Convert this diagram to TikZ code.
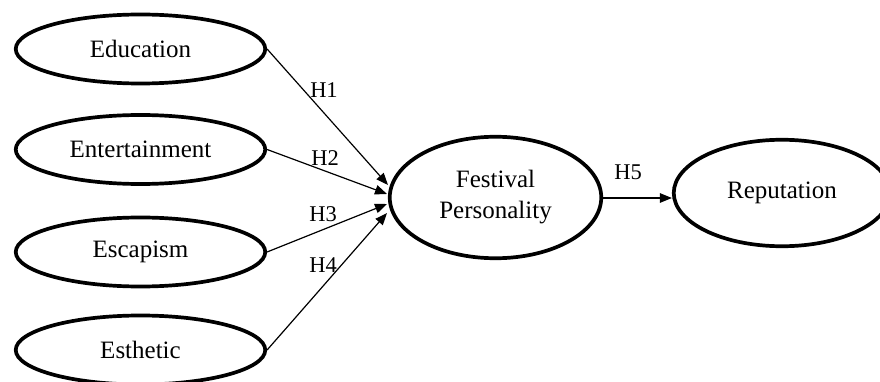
\documentclass[tikz,border=0pt]{standalone}
\usepackage{fontspec}
\setmainfont{Liberation Serif}
\usetikzlibrary{shapes.geometric,arrows.meta}
\begin{document}
\begin{tikzpicture}[x=1pt,y=-1pt,
  var/.style={draw, ellipse, line width=3.7pt, inner sep=0pt, align=center,
    font=\fontsize{25}{30}\selectfont},
  small/.style={var, minimum width=249.5pt, minimum height=69pt},
  hyp/.style={line width=1.2pt, -{Triangle[length=12pt,width=9.5pt]}},
  lab/.style={font=\fontsize{22.5}{26}\selectfont, inner sep=0pt}]
\useasboundingbox (0,0) rectangle (880,382);
\node[small] (edu) at (140.5,49) {Education};
\node[small] (ent) at (140.5,149.5) {Entertainment};
\node[small] (esc) at (140.5,252) {Escapism};
\node[small] (est) at (140.5,350) {Esthetic};
\node[var, minimum width=211.5pt, minimum height=121.5pt] (fp) at (495.5,197.5) {Festival\\[1pt]Personality};
\node[var, minimum width=216.5pt, minimum height=106.5pt] (rep) at (782,193) {Reputation};
\coordinate (t1) at (388,185);
\coordinate (t2) at (387,194);
\coordinate (t3) at (387,204);
\coordinate (t4) at (387,213);
\draw[hyp] (edu.east) -- (t1);
\draw[hyp] (ent.east) -- (t2);
\draw[hyp] (esc.east) -- (t3);
\draw[hyp] (est.east) -- (t4);
\draw[hyp] (fp.east |- 0,198) -- (rep.west |- 0,198);
\node[lab] (h1) at (324,90) {H1};
\node[lab] (h2) at (325,158) {H2};
\node[lab] (h3) at (323,214) {H3};
\node[lab] (h4) at (323,265) {H4};
\node[lab] (h5) at (628,172) {H5};
\end{tikzpicture}
\end{document}
